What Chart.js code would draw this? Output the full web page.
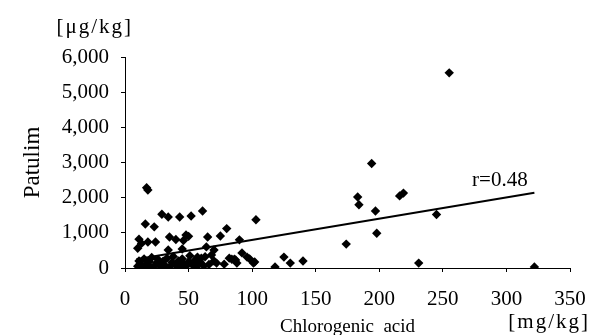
<!DOCTYPE html>
<html>
<head>
<meta charset="utf-8">
<script src="https://cdn.jsdelivr.net/npm/chart.js@4"></script>
<style>
  html, body { margin: 0; padding: 0; background: #fff; }
  #wrap { width: 593px; height: 335px; }
</style>
</head>
<body>
<div id="wrap"><canvas id="chart" width="593" height="335"></canvas></div>
<script>
// chlorogenic acid [mg/kg] vs patulin [ug/kg]
const chlorogenic = [
  255, 322, 231, 245, 216, 219, 194, 183, 184, 197, 198, 174, 140, 103, 125, 130, 118,
  92, 86, 98, 102, 90, 61, 80, 75, 65, 64, 70, 68, 59, 84, 88, 101,
  17, 18, 29, 34, 43, 52, 16, 23, 11, 18, 24, 10, 35, 40, 46, 50, 45, 34, 13, 87, 96, 48,
  10, 11, 12, 14, 15, 17, 19, 20, 21, 23, 25, 26, 28, 30, 31, 33, 35, 37, 38, 40,
  42, 43, 45, 46, 48, 50, 51, 53, 55, 56, 58, 60, 62, 63, 66, 70, 72, 78, 82, 57
];
const patulin = [
  5550, 30, 140, 1520, 2050, 2130, 2970, 2020, 1800, 1620, 990, 680, 200, 1370, 310, 140, 30,
  430, 250, 260, 170, 800, 1620, 1120, 910, 880, 600, 510, 370, 170, 250, 140, 140,
  2280, 2220, 1530, 1450, 1450, 1480, 1250, 1170, 820, 740, 740, 560, 880, 810, 780, 900, 540, 510, 700, 230, 310, 940,
  50, 200, 120, 30, 260, 100, 180, 20, 300, 60, 150, 240, 40, 190, 90, 280, 30, 160, 330, 80,
  200, 20, 260, 120, 50, 180, 350, 90, 220, 20, 150, 280, 60, 320, 100, 200, 140, 110, 280, 310
];
// regression line end points
const fitX = [9, 322];
const fitY = [250, 2140];
const corrLabel = 'r=0.48';

const xTicks = [0, 50, 100, 150, 200, 250, 300, 350];
const yTicks = [0, 1000, 2000, 3000, 4000, 5000, 6000];

const FONT = "'Liberation Serif', 'DejaVu Serif', serif";

const points = chlorogenic.map((x, i) => ({ x: x, y: patulin[i] }));
const fit = fitX.map((x, i) => ({ x: x, y: fitY[i] }));

const extraText = {
  id: 'extraText',
  afterDraw(chart) {
    const { ctx, chartArea } = chart;
    const xs = chart.scales.x, ys = chart.scales.y;
    ctx.save();
    ctx.fillStyle = '#000';
    ctx.textBaseline = 'middle';
    ctx.textAlign = 'right';
    ctx.font = '21px ' + FONT;
    ctx.letterSpacing = '2px';
    ctx.fillText('[\u03bcg/kg]', chartArea.left + 8, chartArea.top - 30);
    ctx.fillText('[mg/kg]', chartArea.right + 20, 322);
    ctx.letterSpacing = '0px';
    ctx.textAlign = 'left';
    ctx.fillText(corrLabel, xs.getPixelForValue(273), ys.getPixelForValue(2500));
    ctx.restore();
  }
};

new Chart(document.getElementById('chart'), {
  type: 'scatter',
  data: {
    datasets: [
      {
        data: points,
        pointStyle: 'rectRot',
        pointRadius: 4.7,
        pointBackgroundColor: '#000',
        pointBorderWidth: 0
      },
      {
        type: 'line',
        data: fit,
        borderColor: '#000',
        borderWidth: 2,
        pointRadius: 0,
        fill: false
      }
    ]
  },
  options: {
    responsive: false,
    animation: false,
    layout: { padding: { top: 57, right: 23, left: 0, bottom: 0 } },
    plugins: {
      legend: { display: false },
      tooltip: { enabled: false }
    },
    scales: {
      x: {
        type: 'linear',
        min: 0,
        max: 350,
        afterFit: (s) => { s.height = 67; s.paddingLeft = 0; s.paddingRight = 0; },
        afterBuildTicks: (s) => { s.ticks = xTicks.map(v => ({ value: v })); },
        border: { display: true, color: '#000', width: 1 },
        grid: { display: true, drawOnChartArea: false, drawTicks: true, tickLength: 4, color: '#000' },
        ticks: { color: '#000', padding: 15, font: { family: FONT, size: 21 }, maxRotation: 0 },
        title: {
          display: true,
          text: 'Chlorogenic  acid',
          color: '#000',
          font: { family: FONT, size: 19 },
          padding: { top: 0, bottom: -3 }
        }
      },
      y: {
        type: 'linear',
        min: 0,
        max: 6000,
        afterFit: (s) => { s.width = 125; },
        afterBuildTicks: (s) => { s.ticks = yTicks.map(v => ({ value: v })); },
        border: { display: true, color: '#000', width: 1 },
        grid: { display: true, drawOnChartArea: false, drawTicks: true, tickLength: 4, color: '#000' },
        ticks: {
          color: '#000',
          padding: 12,
          font: { family: FONT, size: 21 },
          callback: (v) => v.toLocaleString('en-US')
        },
        title: {
          display: true,
          text: 'Patulim',
          color: '#000',
          font: { family: FONT, size: 23 },
          padding: { top: 19, bottom: 0 }
        }
      }
    }
  },
  plugins: [extraText]
});
</script>
</body>
</html>
